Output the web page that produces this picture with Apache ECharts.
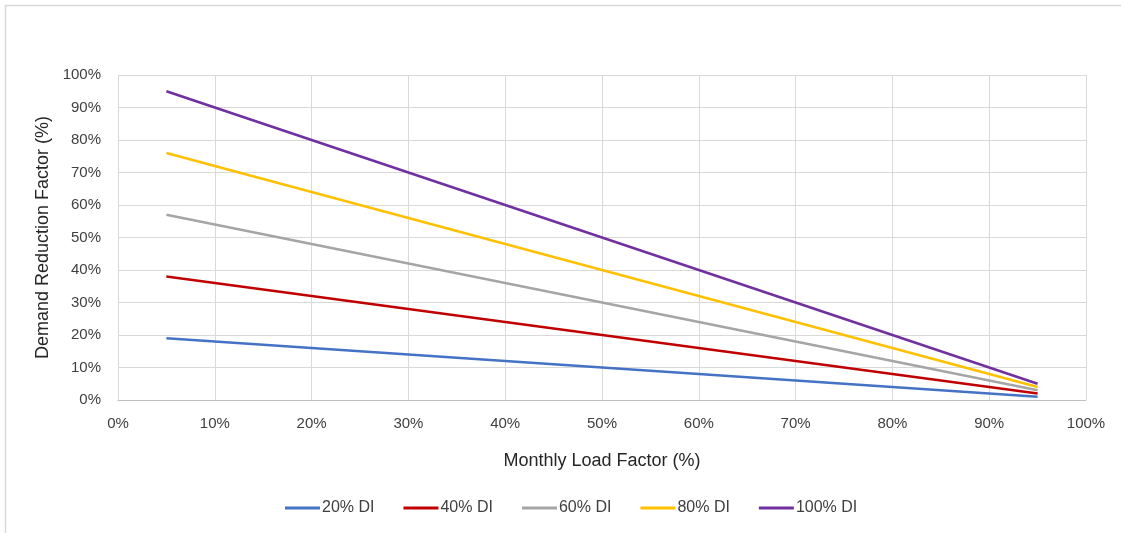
<!DOCTYPE html>
<html><head><meta charset="utf-8">
<script src="https://cdn.jsdelivr.net/npm/echarts@6/dist/echarts.min.js"></script>
<style>html,body{margin:0;padding:0;background:#fff}#c{width:1121px;height:533px}</style>
</head><body><div id="c"></div>
<script>
const loadFactor = [5, 95];
const seriesNames = ['20% DI', '40% DI', '60% DI', '80% DI', '100% DI'];
const di20 = [19, 1];
const di40 = [38, 2];
const di60 = [57, 3];
const di80 = [76, 4];
const di100 = [95, 5];
const colors = ['#4472C4', '#C00000', '#A5A5A5', '#FFC000', '#7030A0'];
const allValues = [di20, di40, di60, di80, di100];

const chart = echarts.init(document.getElementById('c'), null, {renderer: 'canvas'});
const font = 'Liberation Sans, Arial, sans-serif';
chart.setOption({
  animation: false,
  backgroundColor: '#fff',
  graphic: [{type: 'rect', shape: {x: 5.5, y: 5.5, width: 1130, height: 540}, style: {fill: 'none', stroke: '#d9d9d9', lineWidth: 1.5}, silent: true}],
  grid: {left: 118, right: 35, top: 75, bottom: 133},
  xAxis: {
    type: 'value', min: 0, max: 100, interval: 10,
    name: 'Monthly Load Factor (%)', nameLocation: 'middle', nameGap: 52,
    nameTextStyle: {fontFamily: font, fontSize: 18, color: '#262626'},
    axisLine: {show: true, lineStyle: {color: '#bfbfbf', width: 1}},
    axisTick: {show: false},
    axisLabel: {formatter: '{value}%', fontFamily: font, fontSize: 15, color: '#404040', margin: 16},
    splitLine: {show: true, lineStyle: {color: '#d9d9d9', width: 1}}
  },
  yAxis: {
    type: 'value', min: 0, max: 100, interval: 10,
    name: 'Demand Reduction Factor (%)', nameLocation: 'middle', nameGap: 60,
    nameTextStyle: {fontFamily: font, fontSize: 18, color: '#262626'},
    axisLine: {show: false}, axisTick: {show: false},
    axisLabel: {formatter: '{value}%', fontFamily: font, fontSize: 15, color: '#404040', margin: 17},
    splitLine: {show: true, lineStyle: {color: '#d9d9d9', width: 1}}
  },
  legend: {
    bottom: 17, left: 285, itemWidth: 35, itemHeight: 3, itemGap: 29,
    icon: 'rect', padding: 0,
    textStyle: {fontFamily: font, fontSize: 16, color: '#404040', padding: [0, 0, 0, -3]},
    data: seriesNames
  },
  series: seriesNames.map((n, i) => ({
    name: n, type: 'line', showSymbol: false, symbol: 'none',
    lineStyle: {width: 2.5, color: colors[i]}, itemStyle: {color: colors[i]},
    data: loadFactor.map((x, j) => [x, allValues[i][j]])
  }))
});
</script></body></html>
